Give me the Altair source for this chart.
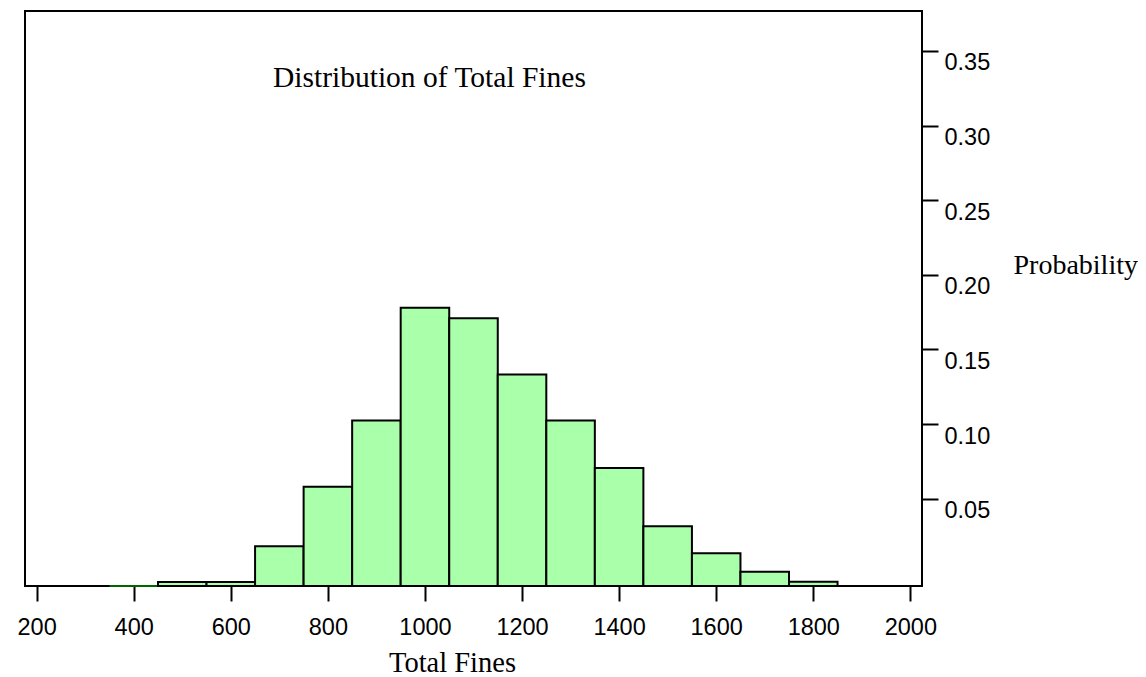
import altair as alt
import pandas as pd

# ---- data ----
bin_start = [350, 450, 550, 650, 750, 850, 950, 1050, 1150, 1250, 1350, 1450, 1550, 1650, 1750]
bin_end = [450, 550, 650, 750, 850, 950, 1050, 1150, 1250, 1350, 1450, 1550, 1650, 1750, 1850]
probability = [-0.0084, -0.0057, -0.0057, 0.0182, 0.0580, 0.1024, 0.1780, 0.1710,
               0.1333, 0.1024, 0.0707, 0.0316, 0.0136, 0.0012, -0.0056]
x_tick_values = [200, 400, 600, 800, 1000, 1200, 1400, 1600, 1800, 2000]
y_tick_values = [0.05, 0.10, 0.15, 0.20, 0.25, 0.30, 0.35]
title_text = ["Distribution of Total Fines"]

X_DOMAIN = [176, 2024]
Y_DOMAIN = [-0.0084, 0.3767]

W, H = 897, 575

df = pd.DataFrame({"start": bin_start, "end": bin_end, "probability": probability})

bars = alt.Chart(df).mark_rect(fill="#aaffaa", strokeWidth=2).encode(
    x=alt.X("start:Q",
            scale=alt.Scale(domain=X_DOMAIN, nice=False, zero=False),
            axis=alt.Axis(values=x_tick_values, format="d", orient="bottom",
                          domain=False, grid=False,
                          ticks=True, tickSize=15, tickWidth=2, tickColor="black",
                          labelFont="Liberation Sans", labelFontSize=23.5, labelColor="black",
                          labelPadding=14, labelFlush=False, labelOverlap=False,
                          title="Total Fines", titleFont="Liberation Serif",
                          titleFontSize=28.5, titleFontWeight="normal", titleColor="black",
                          titleX=427, titleY=85, titleAlign="center",
                          titleBaseline="alphabetic")),
    x2="end:Q",
    y=alt.Y("probability:Q",
            scale=alt.Scale(domain=Y_DOMAIN, nice=False, zero=False),
            axis=alt.Axis(values=y_tick_values, format=".2f", orient="right",
                          domain=False, grid=False,
                          ticks=True, tickSize=16, tickWidth=2, tickColor="black",
                          labelFont="Liberation Sans", labelFontSize=23.5, labelColor="black",
                          labelPadding=6, labelBaseline="top", labelAlign="left",
                          labelFlush=False, labelOverlap=False,
                          title="Probability", titleFont="Liberation Serif",
                          titleFontSize=28, titleFontWeight="normal", titleColor="black",
                          titleAngle=0, titleX=91, titleY=262, titleAlign="left",
                          titleBaseline="alphabetic")),
    y2=alt.datum(Y_DOMAIN[0]),
    stroke=alt.condition(f"datum.probability <= {Y_DOMAIN[0]}",
                         alt.value("#006400"), alt.value("black")),
)

title = alt.Chart(pd.DataFrame({"t": title_text})).mark_text(
    font="Liberation Serif", fontSize=29.5, color="black",
    align="left", baseline="alphabetic",
).encode(text="t:N", x=alt.value(248), y=alt.value(76))

chart = alt.layer(bars, title).properties(
    width=W, height=H,
    autosize=alt.AutoSizeParams(type="none"),
    padding={"left": 17, "top": 3, "right": 216, "bottom": 90},
).configure(
    background="white",
    view=alt.ViewConfig(stroke="black", strokeWidth=2),
)

chart.save("out.html", embed_options={"renderer": "svg", "actions": False})
